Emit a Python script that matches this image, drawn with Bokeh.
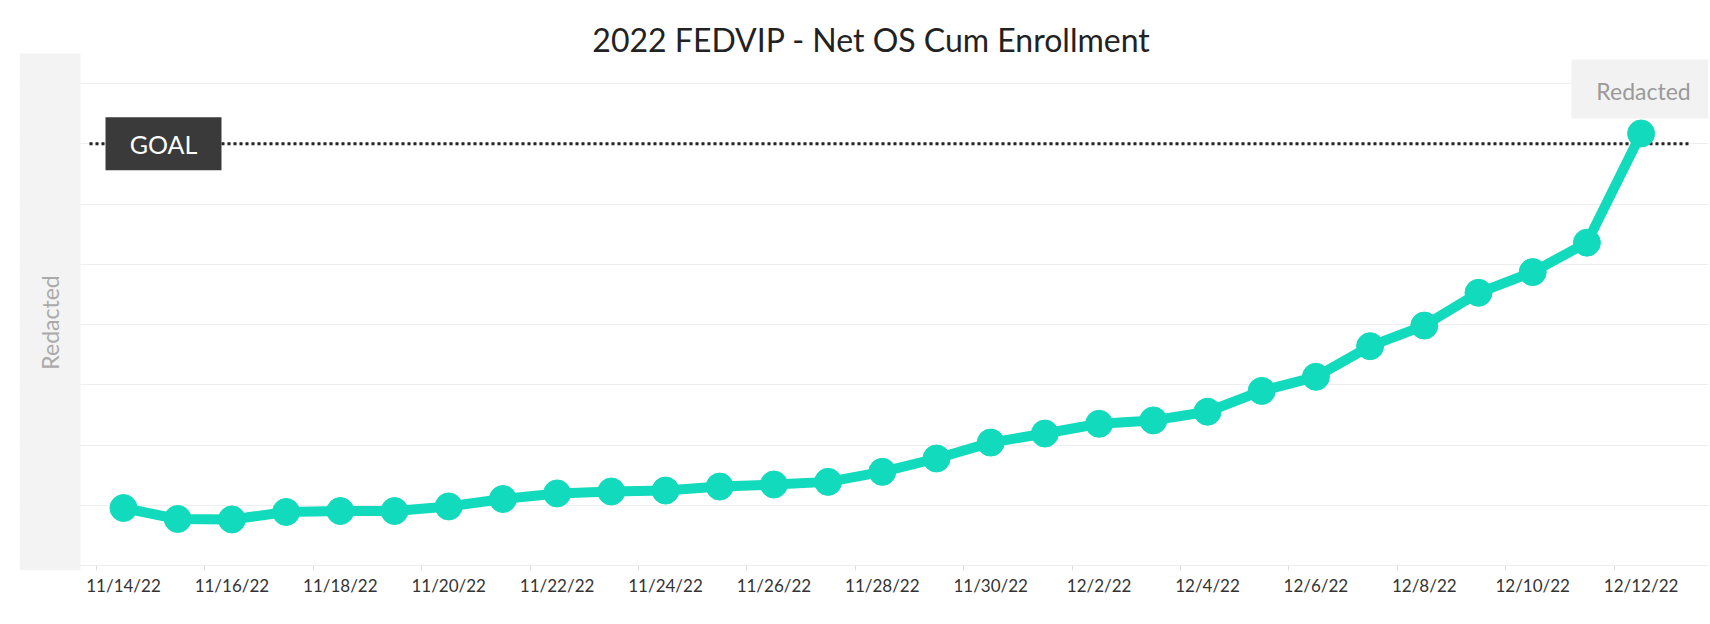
from math import pi
from bokeh.plotting import figure
from bokeh.models import Range1d, FixedTicker, Label, BoxAnnotation
from bokeh.core.properties import value
from bokeh.embed import file_html
from bokeh.resources import INLINE

# ---------------- data ----------------
dates = ["11/14/22", "11/15/22", "11/16/22", "11/17/22", "11/18/22", "11/19/22",
         "11/20/22", "11/21/22", "11/22/22", "11/23/22", "11/24/22", "11/25/22",
         "11/26/22", "11/27/22", "11/28/22", "11/29/22", "11/30/22", "12/1/22",
         "12/2/22", "12/3/22", "12/4/22", "12/5/22", "12/6/22", "12/7/22",
         "12/8/22", "12/9/22", "12/10/22", "12/11/22", "12/12/22"]
enrollment = [477, 386, 382, 444, 452, 452, 490, 552, 598, 614, 622, 655,
              672, 694, 777, 888, 1020, 1095, 1176, 1204, 1276, 1449, 1566,
              1820, 1991, 2263, 2435, 2679, 3585]
goal = 3500
y_ticks = [0, 500, 1000, 1500, 2000, 2500, 3000, 3500, 4000]
title_text = "2022 FEDVIP - Net OS Cum Enrollment"
goal_text = "GOAL"
redacted_text = "Redacted"

# ---------------- layout (canvas pixels) ----------------
W, H = 1710, 624
FL, FR, FT, FB = 19, 1708, 20, 570          # frame edges
PL, PR, PT, PB = 89, 1688, 83, 565          # plotting area (grid extent)
X0_PX, DAY_PX = 123, 54.2                   # first category centre, px per day
UNIT_PX = (PB - PT) / (y_ticks[-1] - y_ticks[0])

def xd(cx):  # canvas x -> data x
    return (cx - X0_PX) / DAY_PX

def yd(cy):  # canvas y -> data y
    return y_ticks[0] + (PB - cy) / UNIT_PX

def sx(cx):  # canvas x -> frame screen x
    return cx - FL

def sy(cy):  # canvas y -> frame screen y (upwards)
    return FB - cy

TEAL = "#12DABD"
FONT = "Lato"

idx = list(range(len(dates)))

p = figure(width=W, height=H, output_backend="svg", toolbar_location=None,
           x_range=Range1d(xd(FL), xd(FR)), y_range=Range1d(yd(FB), yd(FT)),
           min_border_left=FL, min_border_right=W - FR, min_border_top=FT,
           min_border_bottom=H - FB,
           background_fill_color="white", border_fill_color="white")
p.outline_line_color = None

# grid
p.xgrid.visible = False
p.ygrid.grid_line_color = "#eeeeee"
p.ygrid.grid_line_width = 1
p.ygrid.bounds = (xd(PL), xd(PR))

# x axis
even = idx[::2]
p.xaxis.ticker = FixedTicker(ticks=even, minor_ticks=[i - 0.5 for i in even])
p.xaxis.major_label_overrides = {i: dates[i] for i in even}
p.xaxis.axis_line_color = None
p.xaxis.major_tick_line_color = None
p.xaxis.major_tick_in = 0
p.xaxis.major_tick_out = 0
p.xaxis.minor_tick_line_color = "#dddddd"
p.xaxis.minor_tick_in = FB - PB
p.xaxis.minor_tick_out = 0
p.xaxis.major_label_text_font = FONT
p.xaxis.major_label_text_font_size = "17px"
p.xaxis.major_label_text_color = "#333333"
p.xaxis.major_label_standoff = 4

# y axis (values redacted in the original)
p.yaxis.ticker = FixedTicker(ticks=y_ticks)
p.yaxis.visible = False

# goal line
p.segment(x0=[xd(PL)], x1=[xd(PR)], y0=[goal], y1=[goal], line_color="#222222",
          line_width=3, line_dash="3 3")

# data
p.line(idx, enrollment, line_color=TEAL, line_width=10, line_join="round")
p.scatter(idx, enrollment, size=27, fill_color=TEAL, line_color=TEAL)

# GOAL box
p.rect(x=[xd(163)], y=[goal], width=116, height=53, width_units="screen",
       height_units="screen", fill_color="#3a3a3a", line_color=None)
p.text(x=[xd(163)], y=[goal], text=[goal_text], text_color="white",
       text_font=value(FONT), text_font_size="25px", text_align="center",
       text_baseline="middle")

# title
p.add_layout(Label(x=sx(871), y=sy(39), x_units="screen", y_units="screen",
                   text=title_text, text_align="center", text_baseline="alphabetic",
                   text_font=FONT, text_font_size="32px", text_color="#222222"))

# left redacted panel (covers y-axis labels)
p.add_layout(BoxAnnotation(left=sx(19), right=sx(80), top=sy(53), bottom=sy(570),
                           left_units="screen", right_units="screen",
                           top_units="screen", bottom_units="screen",
                           fill_color="#f3f3f3", fill_alpha=1, line_color=None))
p.add_layout(Label(x=sx(49), y=sy(322), x_units="screen", y_units="screen",
                   text=redacted_text, angle=pi / 2, text_align="center",
                   text_baseline="middle", text_font=FONT, text_font_size="23px",
                   text_color="#aaaaaa"))

# top-right redacted box
p.add_layout(BoxAnnotation(left=sx(1571), right=sx(1708), top=sy(59), bottom=sy(118),
                           left_units="screen", right_units="screen",
                           top_units="screen", bottom_units="screen",
                           fill_color="#f2f2f2", fill_alpha=1, line_color=None))
p.add_layout(Label(x=sx(1643), y=sy(90), x_units="screen", y_units="screen",
                   text=redacted_text, text_align="center", text_baseline="middle",
                   text_font=FONT, text_font_size="23px", text_color="#9a9a9a"))

open("out.html", "w").write(file_html(p, INLINE))
